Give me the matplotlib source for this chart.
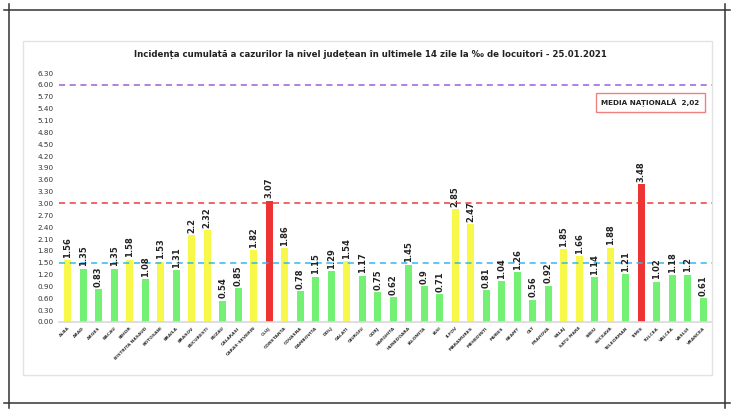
import matplotlib
matplotlib.use("Agg")
import matplotlib.pyplot as plt
from matplotlib.lines import Line2D
from matplotlib.patches import Rectangle
import numpy as np

counties = ["ALBA", "ARAD", "ARGES", "BACAU", "BIHOR", "BISTRITA NASAUD", "BOTOSANI", "BRAILA",
            "BRASOV", "BUCURESTI", "BUZAU", "CALARASI", "CARAS-SEVERIN", "CLUJ", "CONSTANTA",
            "COVASNA", "DAMBOVITA", "DOLJ", "GALATI", "GIURGIU", "GORJ", "HARGHITA", "HUNEDOARA",
            "IALOMITA", "IASI", "ILFOV", "MARAMURES", "MEHEDINTI", "MURES", "NEAMT", "OLT",
            "PRAHOVA", "SALAJ", "SATU MARE", "SIBIU", "SUCEAVA", "TELEORMAN", "TIMIS", "TULCEA",
            "VALCEA", "VASLUI", "VRANCEA"]
values = [1.56, 1.35, 0.83, 1.35, 1.58, 1.08, 1.53, 1.31, 2.2, 2.32, 0.54, 0.85, 1.82, 3.07,
          1.86, 0.78, 1.15, 1.29, 1.54, 1.17, 0.75, 0.62, 1.45, 0.9, 0.71, 2.85, 2.47, 0.81,
          1.04, 1.26, 0.56, 0.92, 1.85, 1.66, 1.14, 1.88, 1.21, 3.48, 1.02, 1.18, 1.2, 0.61]
value_labels = ["1.56", "1.35", "0.83", "1.35", "1.58", "1.08", "1.53", "1.31", "2.2", "2.32",
                "0.54", "0.85", "1.82", "3.07", "1.86", "0.78", "1.15", "1.29", "1.54", "1.17",
                "0.75", "0.62", "1.45", "0.9", "0.71", "2.85", "2.47", "0.81", "1.04", "1.26",
                "0.56", "0.92", "1.85", "1.66", "1.14", "1.88", "1.21", "3.48", "1.02", "1.18",
                "1.2", "0.61"]
yticks = [0.0, 0.3, 0.6, 0.9, 1.2, 1.5, 1.8, 2.1, 2.4, 2.7, 3.0, 3.3, 3.6, 3.9, 4.2, 4.5,
          4.8, 5.1, 5.4, 5.7, 6.0, 6.3]
thresholds = [1.5, 3.0, 6.0]
title = "Incidența cumulată a cazurilor la nivel județean în ultimele 14 zile la ‰ de locuitori - 25.01.2021"
national = "MEDIA NAȚIONALĂ  2,02"

W, H = 735, 413
fig = plt.figure(figsize=(W / 100, H / 100), dpi=100)
fig.patch.set_facecolor("white")

def fx(px):
    return px / W

def fy(py):
    return 1 - py / H

# outer frame lines
for (x0, y0, x1, y1) in [(4, 10, 730, 10), (4, 403, 730, 403), (9, 4, 9, 408), (725, 4, 725, 408)]:
    fig.add_artist(Line2D([fx(x0), fx(x1)], [fy(y0), fy(y1)], color="#333333", lw=1.1))
# inner light box
fig.add_artist(Rectangle((fx(23), fy(375)), fx(712) - fx(23), fy(41) - fy(375),
                         fill=False, edgecolor="#e2e2e2", lw=1.0))

ax = fig.add_axes([fx(59), fy(322), fx(712) - fx(59), fy(73) - fy(322)])
x = np.arange(len(counties))

def col(v):
    if v >= 3.0:
        return "#ee3333"
    if v >= 1.5:
        return "#f8f84a"
    return "#74f074"

colors = [col(v) for v in values]
ax.bar(x, values, width=0.45, color=colors, edgecolor="none", zorder=2)

line_colors = {1.5: "#2fb8f0", 3.0: "#ee3b3b", 6.0: "#9b5fd6"}
for t in thresholds:
    ax.axhline(t, color=line_colors[t], lw=1.1, ls=(0, (4, 3)), zorder=3)

for xi, v, lab in zip(x, values, value_labels):
    ax.text(xi, v + 0.06, lab, rotation=90, ha="center", va="bottom", fontsize=6.0,
            fontweight="bold", color="#222222", zorder=4)

ax.set_xlim(-0.55, len(counties) - 0.45)
ax.set_ylim(0, 6.3)
ax.set_yticks(yticks)
ax.set_yticklabels([f"{t:.2f}" for t in yticks], fontsize=5.2, color="#333333")
ax.set_xticks(x)
ax.set_xticklabels(counties, rotation=45, ha="right", rotation_mode="anchor",
                   fontsize=3.2, fontweight="bold", color="#333333")
ax.tick_params(axis="both", length=0, pad=4)
ax.tick_params(axis="x", pad=3)
for s in ["top", "right", "left"]:
    ax.spines[s].set_visible(False)
ax.spines["bottom"].set_color("#d9d9d9")
ax.spines["bottom"].set_linewidth(1.2)

fig.text(fx(370), fy(54), title, ha="center", va="center", fontsize=6.2, fontweight="bold",
         color="#222222")
fig.text(fx(650.5), fy(102.5), national, ha="center", va="center", fontsize=5.2,
         fontweight="bold", color="#222222",
         bbox=dict(boxstyle="square,pad=0.8", facecolor="white", edgecolor="#f08080", lw=1.0))

fig.savefig("out.png", dpi=100)
